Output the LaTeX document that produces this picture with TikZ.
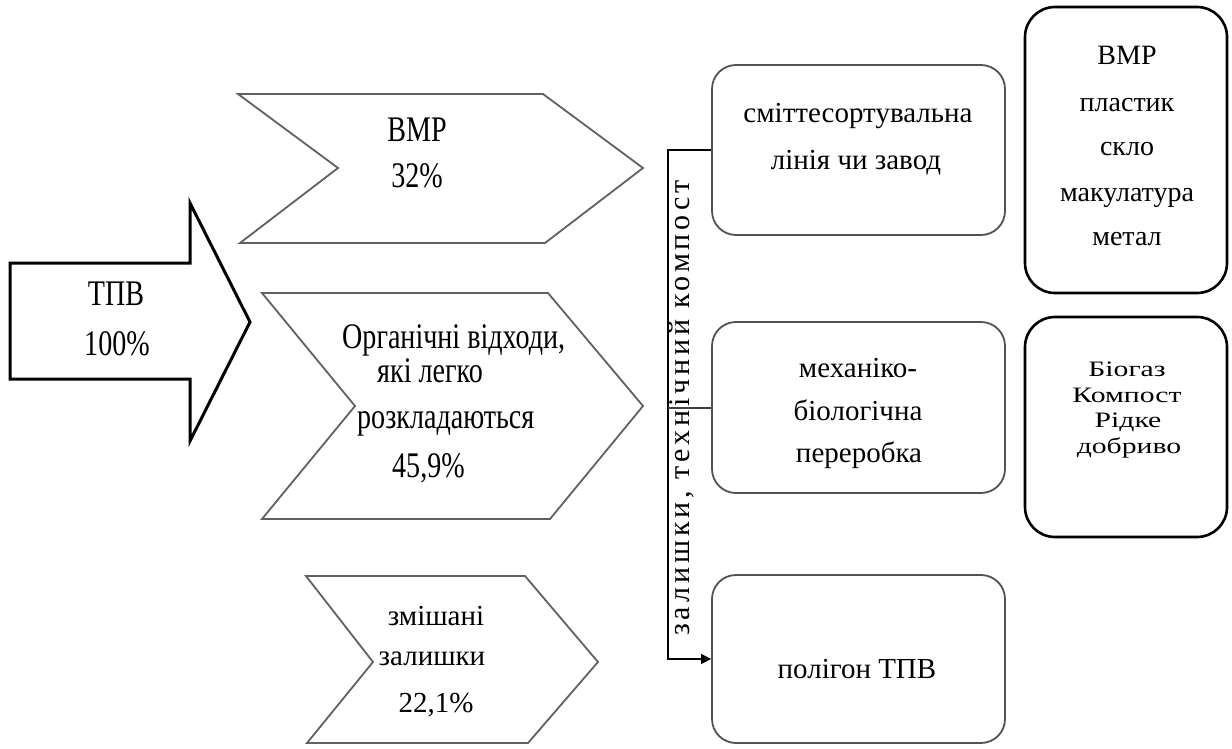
\documentclass[tikz,border=0pt]{standalone}
\usepackage{fontspec}
\setmainfont{Liberation Serif}
\newfontfamily\narrowfont[FakeStretch=0.78]{Liberation Serif}
\newfontfamily\widefont[FakeStretch=1.35]{Liberation Serif}
\newfontfamily\spacedfont[LetterSpace=13]{Liberation Serif}
\usetikzlibrary{arrows.meta}

\begin{document}
\begin{tikzpicture}[x=1pt,y=-1pt,
  bigarrow/.style={draw=black,line width=3pt,line join=miter,fill=white},
  chevron/.style={draw=black!62,line width=1.8pt,line join=miter,fill=white},
  midbox/.style={draw=black!68,line width=1.8pt,rounded corners=24pt,
    rectangle,minimum width=293pt,inner sep=0pt},
  outbox/.style={draw=black,line width=2.6pt,rounded corners=30pt,
    rectangle,minimum width=202pt,inner sep=0pt},
  link/.style={draw=black,line width=1.4pt},
  sidelink/.style={draw=black!75,line width=2pt},
  bigtxt/.style={font=\narrowfont\fontsize{36}{40}\selectfont,inner sep=0pt,anchor=base},
  txt/.style={font=\fontsize{29}{32}\selectfont,inner sep=0pt,anchor=base},
  listtxt/.style={font=\fontsize{28}{32}\selectfont,inner sep=0pt,anchor=base},
  widetxt/.style={font=\widefont\fontsize{22}{26}\selectfont,inner sep=0pt,anchor=base},
  sidetxt/.style={font=\spacedfont\fontsize{30}{34}\selectfont,inner sep=0pt,anchor=base}
]
\useasboundingbox[fill=white] (0,0) rectangle (1232,749);

% input arrow
\draw[bigarrow] (10,263) -- (190,263) -- (190,203) -- (250,322)
  -- (190,441) -- (190,379) -- (10,379) -- cycle;
\node[bigtxt] (tpv1) at (116,305) {ТПВ};
\node[bigtxt] (tpv2) at (117,355) {100\%};

% three fractions
\draw[chevron] (238,94) -- (543,94) -- (643,168) -- (545,243)
  -- (240,243) -- (338,168) -- cycle;
\node[bigtxt] (vmr1) at (417,142) {ВМР};
\node[bigtxt] (vmr2) at (417,188) {32\%};

\draw[chevron] (262,293) -- (548,293) -- (643,406) -- (550,519)
  -- (262,519) -- (355,406) -- cycle;
\node[bigtxt,anchor=base west] (org1) at (342,348) {Органічні відходи,};
\node[bigtxt,anchor=base west] (org2) at (377,382) {які легко};
\node[bigtxt,anchor=base west] (org3) at (357,428) {розкладаються};
\node[bigtxt,anchor=base west] (org4) at (392,477) {45,9\%};

\draw[chevron] (306,576) -- (525,576) -- (598,662) -- (528,743)
  -- (307,743) -- (373,662) -- cycle;
\node[txt] (mix1) at (436,625) {змішані};
\node[txt] (mix2) at (432,665) {залишки};
\node[txt] (mix3) at (436,712) {22,1\%};

% treatment
\node[midbox,minimum height=170pt] (box1) at (858.5,150) {};
\node[txt] (b1l1) at (858,123) {сміттесортувальна};
\node[txt] (b1l2) at (856,170) {лінія чи завод};

\node[midbox,minimum height=171pt] (box2) at (858.5,407.5) {};
\node[txt] (b2l1) at (858,377) {механіко-};
\node[txt] (b2l2) at (858,420) {біологічна};
\node[txt] (b2l3) at (859,462) {переробка};

\node[midbox,minimum height=168pt] (box3) at (858.5,659) {};
\node[txt] (b3l1) at (857,678) {полігон ТПВ};

% products
\node[outbox,minimum height=286pt] (out1) at (1126,150) {};
\node[listtxt] (o1l1) at (1127,65) {ВМР};
\node[listtxt] (o1l2) at (1127,112) {пластик};
\node[listtxt] (o1l3) at (1127,156) {скло};
\node[listtxt] (o1l4) at (1127,201) {макулатура};
\node[listtxt] (o1l5) at (1127,245) {метал};

\node[outbox,minimum height=220pt] (out2) at (1126,427) {};
\node[widetxt] (o2l1) at (1127,376) {Біогаз};
\node[widetxt] (o2l2) at (1127,402) {Компост};
\node[widetxt] (o2l3) at (1128,427) {Рідке};
\node[widetxt] (o2l4) at (1129,453) {добриво};

% residue line
\coordinate (spine) at (668,0);
\draw[link,-{Triangle[length=10pt,width=10pt]}]
  (box1.west) -- (box1.west -| spine) |- (box3.west);
\draw[sidelink] (box2.west -| spine) -- (box2.west);
\node[sidetxt,rotate=90] (resid) at (689,408) {залишки, технічний компост};
\end{tikzpicture}
\end{document}
